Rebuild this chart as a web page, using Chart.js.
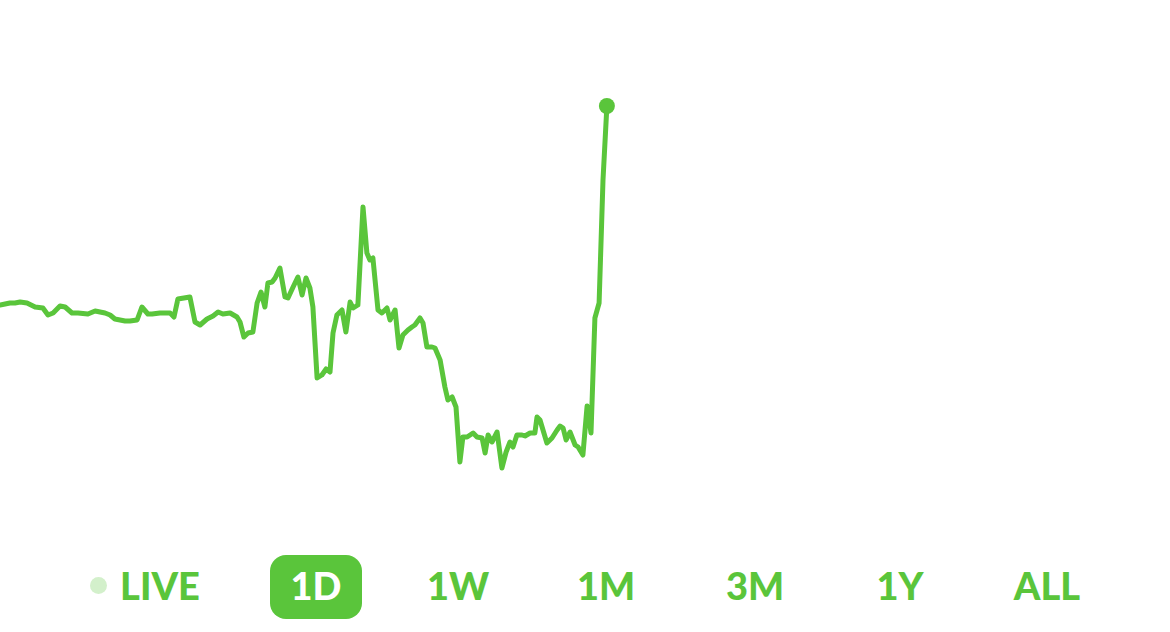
<!DOCTYPE html>
<html>
<head>
<meta charset="utf-8">
<script src="https://cdn.jsdelivr.net/npm/chart.js@4/dist/chart.umd.min.js"></script>
<style>
    body { margin: 0; background: #fff; width: 1170px; height: 632px; overflow: hidden; font-family: Lato, sans-serif; }
    #chart-wrap { position: absolute; left: 0; top: 0; width: 1170px; height: 540px; }
    .tab { position: absolute; top: 555px; height: 64px; line-height: 60px; font-size: 38px; font-weight: 900; color: #5ac53b; text-align: center; transform: translateX(-50%); }
    .tab.active { background: #5ac53b; color: #fff; border-radius: 16px; width: 92px; }
    .live-dot { position: absolute; left: 90px; top: 577px; width: 17px; height: 17px; border-radius: 50%; background: #d3f0cb; }
</style>
</head>
<body>
<div id="chart-wrap"><canvas id="price-chart"></canvas></div>
<div class="live-dot"></div>
<div id="tabs"></div>
<script>
// Minutter siden åpning (x-akse) og kurs (y-akse)
const minutes = [
    0, 1.7, 3.3, 5, 6.7, 9, 11.7, 14.3, 16, 17.7,
    20, 21.7, 24, 26, 29.3, 31.7, 35, 36.7, 38.3, 41.7,
    43.3, 45.7, 47.3, 49.3, 50.7, 53.3, 56.7, 58, 59.3, 61.3,
    63.3, 65, 66.7, 69, 71, 72.7, 74.3, 76.7, 79, 80,
    81.3, 82.7, 84.3, 85.7, 87, 88.3, 89.3, 90.7, 91.7, 93.3,
    95, 96, 97.7, 99.3, 100.7, 102, 103.3, 104.3, 105.7, 107.3,
    108.7, 110, 111, 112.3, 114, 115.3, 116.7, 117.7, 119.3, 121,
    122.3, 123.3, 124.3, 126, 127.3, 129, 130, 131.7, 133, 134.3,
    136, 137.3, 138.3, 140, 141, 142.3, 144, 145, 146.7, 148.3,
    149.3, 150.7, 152, 153.3, 154.3, 155.7, 156.7, 157.7, 159, 160.7,
    161.7, 162.7, 164, 165.7, 167.3, 168.7, 170, 171, 172.3, 174,
    175, 176.7, 178.3, 179, 180, 182.3, 184, 185.7, 186.7, 187.7,
    188.7, 190, 191.7, 192.7, 194.3, 195.7, 197, 198.3, 199.7, 201,
    202.3
];
const prices = [
    29.5, 29.6, 29.7, 29.7, 29.8, 29.7, 29.3, 29.2, 28.5, 28.7,
    29.4, 29.3, 28.7, 28.7, 28.6, 28.9, 28.7, 28.5, 28.1, 27.9,
    27.9, 28.0, 29.3, 28.6, 28.6, 28.7, 28.7, 28.3, 30.1, 30.2,
    30.3, 27.8, 27.5, 28.1, 28.4, 28.8, 28.6, 28.7, 28.3, 27.8,
    26.3, 26.7, 26.8, 29.7, 30.8, 29.3, 31.7, 31.8, 32.2, 33.2,
    30.3, 30.2, 31.3, 32.3, 30.5, 32.2, 31.2, 29.3, 22.2, 22.5,
    23.1, 22.8, 26.7, 28.5, 29.0, 26.8, 29.8, 29.2, 29.5, 39.3,
    34.7, 34.0, 34.2, 29.0, 28.7, 29.2, 28.0, 29.0, 25.2, 26.5,
    27.0, 27.3, 27.5, 28.2, 27.7, 25.3, 25.3, 25.2, 24.0, 21.3,
    20.0, 20.3, 19.3, 13.8, 16.3, 16.3, 16.5, 16.7, 16.3, 16.2,
    14.7, 16.5, 15.8, 16.8, 13.2, 14.8, 15.8, 15.3, 16.5, 16.5,
    16.4, 16.7, 16.7, 18.3, 18.0, 15.7, 16.2, 17.0, 17.4, 17.2,
    16.0, 16.8, 15.5, 15.3, 14.5, 19.4, 16.7, 28.2, 29.7, 42.0,
    49.4
];
const tabLabels = ['LIVE', '1D', '1W', '1M', '3M', '1Y', 'ALL'];
const activeTab = '1D';

const green = '#5ac53b';

// Tidsvelger under grafen
const tabCenters = [160, 316, 458, 606, 755, 900, 1047];
const tabs = document.getElementById('tabs');
tabLabels.forEach((label, i) => {
    const el = document.createElement('div');
    el.className = 'tab' + (label === activeTab ? ' active' : '');
    el.textContent = label;
    el.style.left = tabCenters[i] + 'px';
    tabs.appendChild(el);
});

const ctx = document.getElementById('price-chart').getContext('2d');
new Chart(ctx, {
    type: 'line',
    data: {
        datasets: [{
            data: minutes.map((m, i) => ({ x: m, y: prices[i] })),
            borderColor: green,
            backgroundColor: green,
            borderWidth: 5,
            borderJoinStyle: 'round',
            borderCapStyle: 'round',
            tension: 0,
            pointRadius: c => c.dataIndex === prices.length - 1 ? 8 : 0,
            pointHoverRadius: 0,
            pointBorderWidth: 0
        }]
    },
    options: {
        responsive: true,
        maintainAspectRatio: false,
        animation: false,
        layout: { padding: 0, autoPadding: false },
        scales: {
            x: { type: 'linear', min: 0, max: 390, display: false },
            y: { min: 6, max: 60, display: false }
        },
        plugins: {
            legend: { display: false },
            tooltip: { enabled: false }
        }
    }
});
</script>
</body>
</html>
